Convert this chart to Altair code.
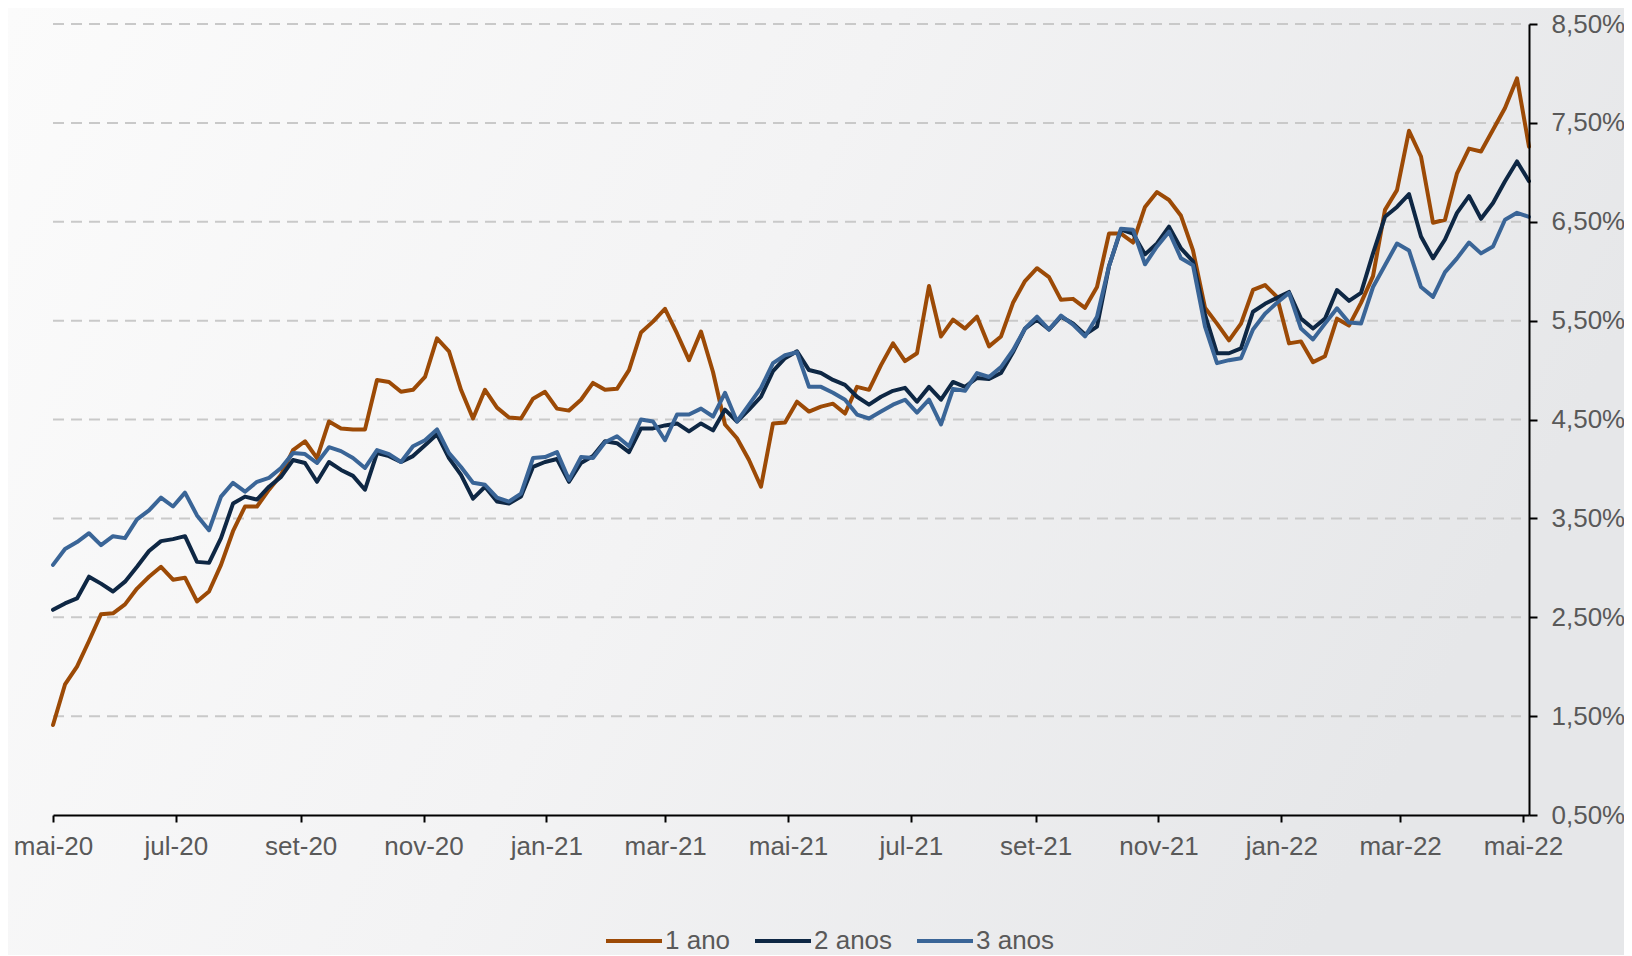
import altair as alt
import pandas as pd

series_names = ["1 ano", "2 anos", "3 anos"]
series_colors = ["#9C4A06", "#0E2744", "#3A6597"]
start_date = "2020-05-01"
end_date = "2022-05-04"

ano1 = [1.41, 1.82, 2.00, 2.26, 2.53, 2.54, 2.63, 2.79, 2.91, 3.01,
        2.88, 2.90, 2.66, 2.76, 3.03, 3.37, 3.62, 3.62, 3.79, 3.94,
        4.19, 4.28, 4.11, 4.48, 4.41, 4.40, 4.40, 4.90, 4.88, 4.78,
        4.80, 4.93, 5.32, 5.19, 4.80, 4.51, 4.80, 4.62, 4.52, 4.51,
        4.71, 4.78, 4.61, 4.59, 4.70, 4.87, 4.80, 4.81, 5.00, 5.38,
        5.49, 5.62, 5.37, 5.10, 5.39, 4.98, 4.45, 4.31, 4.09, 3.82,
        4.46, 4.47, 4.68, 4.58, 4.63, 4.66, 4.56, 4.83, 4.80, 5.05,
        5.27, 5.09, 5.17, 5.85, 5.34, 5.51, 5.42, 5.54, 5.24, 5.34,
        5.68, 5.90, 6.03, 5.94, 5.71, 5.72, 5.63, 5.84, 6.38, 6.38,
        6.29, 6.65, 6.80, 6.72, 6.56, 6.21, 5.63, 5.47, 5.30, 5.47,
        5.81, 5.86, 5.74, 5.27, 5.29, 5.08, 5.14, 5.52, 5.45, 5.68,
        5.95, 6.62, 6.82, 7.42, 7.16, 6.49, 6.52, 6.99, 7.24, 7.21,
        7.43, 7.65, 7.95, 7.26]

ano2 = [2.575, 2.64, 2.69, 2.91, 2.84, 2.76, 2.86, 3.01, 3.17, 3.27,
        3.29, 3.32, 3.06, 3.05, 3.30, 3.65, 3.72, 3.69, 3.82, 3.92,
        4.09, 4.06, 3.87, 4.07, 3.99, 3.93, 3.79, 4.16, 4.13, 4.07,
        4.13, 4.24, 4.35, 4.11, 3.94, 3.70, 3.82, 3.67, 3.65, 3.72,
        4.02, 4.07, 4.10, 3.87, 4.06, 4.13, 4.28, 4.26, 4.17, 4.41,
        4.41, 4.44, 4.46, 4.38, 4.46, 4.39, 4.60, 4.48, 4.60, 4.73,
        4.99, 5.12, 5.19, 5.00, 4.97, 4.90, 4.85, 4.73, 4.65, 4.73,
        4.79, 4.82, 4.68, 4.83, 4.70, 4.88, 4.83, 4.92, 4.91, 4.97,
        5.18, 5.42, 5.51, 5.41, 5.54, 5.47, 5.36, 5.44, 6.05, 6.42,
        6.38, 6.17, 6.28, 6.45, 6.23, 6.10, 5.56, 5.17, 5.17, 5.22,
        5.59, 5.67, 5.73, 5.79, 5.52, 5.42, 5.52, 5.81, 5.70, 5.78,
        6.18, 6.55, 6.65, 6.78, 6.35, 6.13, 6.32, 6.59, 6.76, 6.53,
        6.69, 6.91, 7.11, 6.91]

ano3 = [3.03, 3.19, 3.26, 3.35, 3.23, 3.32, 3.30, 3.49, 3.58, 3.71,
        3.62, 3.76, 3.53, 3.38, 3.72, 3.86, 3.77, 3.87, 3.91, 4.01,
        4.16, 4.15, 4.06, 4.22, 4.18, 4.11, 4.01, 4.19, 4.15, 4.07,
        4.23, 4.29, 4.40, 4.16, 4.02, 3.86, 3.84, 3.71, 3.67, 3.75,
        4.11, 4.12, 4.17, 3.89, 4.12, 4.11, 4.27, 4.33, 4.23, 4.50,
        4.48, 4.29, 4.55, 4.55, 4.61, 4.53, 4.77, 4.48, 4.65, 4.82,
        5.07, 5.15, 5.18, 4.83, 4.83, 4.77, 4.70, 4.55, 4.51, 4.58,
        4.65, 4.70, 4.57, 4.70, 4.45, 4.81, 4.79, 4.97, 4.93, 5.03,
        5.20, 5.42, 5.54, 5.41, 5.55, 5.46, 5.34, 5.54, 6.05, 6.43,
        6.42, 6.07, 6.25, 6.40, 6.13, 6.06, 5.44, 5.07, 5.10, 5.12,
        5.41, 5.57, 5.68, 5.78, 5.42, 5.31, 5.47, 5.625, 5.48, 5.47,
        5.84, 6.06, 6.28, 6.21, 5.84, 5.74, 5.99, 6.13, 6.29, 6.18,
        6.25, 6.52, 6.59, 6.55]

y_ticks = [0.5, 1.5, 2.5, 3.5, 4.5, 5.5, 6.5, 7.5, 8.5]
grid_values = [1.5, 2.5, 3.5, 4.5, 5.5, 6.5, 7.5, 8.5]
month_names_pt = ['jan', 'fev', 'mar', 'abr', 'mai', 'jun', 'jul', 'ago', 'set', 'out', 'nov', 'dez']
x_tick_months = [(2020, 5), (2020, 7), (2020, 9), (2020, 11), (2021, 1), (2021, 3),
                 (2021, 5), (2021, 7), (2021, 9), (2021, 11), (2022, 1), (2022, 3), (2022, 5)]

dates = pd.date_range(start_date, end_date, periods=len(ano1))
date_str = [d.strftime("%Y-%m-%dT%H:%M:%SZ") for d in dates]

rows = []
for name, vals in zip(series_names, [ano1, ano2, ano3]):
    for d, v in zip(date_str, vals):
        rows.append({"data": d, "serie": name, "taxa": v})
df = pd.DataFrame(rows)

W, H = 1476, 791
FONT = "Liberation Sans"
LABEL_COLOR = "#595959"

month_js = "[" + ",".join("'%s'" % m for m in month_names_pt) + "]"
x_label_expr = month_js + "[utcmonth(datum.value)] + '-' + utcFormat(datum.value, '%y')"

x_scale = alt.Scale(type="utc",
                    domain=[alt.DateTime(year=2020, month=5, date=1, utc=True),
                            alt.DateTime(year=2022, month=5, date=4, utc=True)])
y_scale = alt.Scale(domain=[0.5, 8.5], nice=False, zero=False)

y_axis = alt.Axis(title=None, orient="right", grid=False, zindex=1,
                  values=y_ticks,
                  labelExpr="replace(format(datum.value, '.2f'), '.', ',') + '%'",
                  domainColor="black", domainWidth=2,
                  tickColor="black", tickWidth=2, tickSize=8,
                  labelPadding=14, labelFontSize=26, labelFont=FONT,
                  labelColor=LABEL_COLOR, labelFlush=False, labelOverlap=False)

x_axis = alt.Axis(title=None, grid=False, zindex=1,
                  values=[alt.DateTime(year=y, month=m, date=1, utc=True) for y, m in x_tick_months],
                  labelExpr=x_label_expr,
                  domainColor="black", domainWidth=2,
                  tickColor="black", tickWidth=2, tickSize=7,
                  labelPadding=11, labelFontSize=26, labelFont=FONT,
                  labelColor=LABEL_COLOR, labelFlush=False, labelOverlap=False)

background = alt.Chart(alt.Data(values=[{}])).mark_rect(
    color=alt.LinearGradient(
        gradient="linear",
        stops=[alt.GradientStop(color="#fbfbfb", offset=0),
               alt.GradientStop(color="#f3f3f4", offset=0.5),
               alt.GradientStop(color="#e6e7e9", offset=1)],
        x1=0, x2=1, y1=0, y2=0.3),
    strokeWidth=0
).encode(
    x=alt.value(-45), x2=alt.value(W + 110),
    y=alt.value(-16), y2=alt.value(H + 160)
)

grid = alt.Chart(pd.DataFrame({"taxa": grid_values})).mark_rule(
    color="#c9c9c9", strokeWidth=2, strokeDash=[11, 7]
).encode(
    y=alt.Y("taxa:Q", scale=y_scale, axis=y_axis),
    x=alt.value(0),
    x2=alt.value(W - 8)
)

lines = alt.Chart(df).mark_line(strokeWidth=4, strokeJoin="round", strokeCap="round").encode(
    x=alt.X("data:T", scale=x_scale, axis=x_axis),
    y=alt.Y("taxa:Q", scale=y_scale, axis=y_axis),
    color=alt.Color("serie:N",
                    scale=alt.Scale(domain=series_names, range=series_colors),
                    legend=alt.Legend(title=None, orient="none", direction="horizontal",
                                      legendX=551, legendY=887,
                                      symbolType="stroke", symbolSize=3136,
                                      symbolStrokeWidth=4, labelOffset=1,
                                      columnPadding=16, labelFontSize=26,
                                      labelFont=FONT, labelColor=LABEL_COLOR,
                                      padding=0))
)

chart = alt.layer(background, grid, lines).properties(
    width=W, height=H,
    autosize=alt.AutoSizeParams(type="none"),
    padding={"left": 45, "top": 16, "right": 95, "bottom": 140},
    background="#f2f2f3"
).configure_view(stroke=None)

chart.save("out.html", embed_options={"renderer": "svg", "actions": False})
